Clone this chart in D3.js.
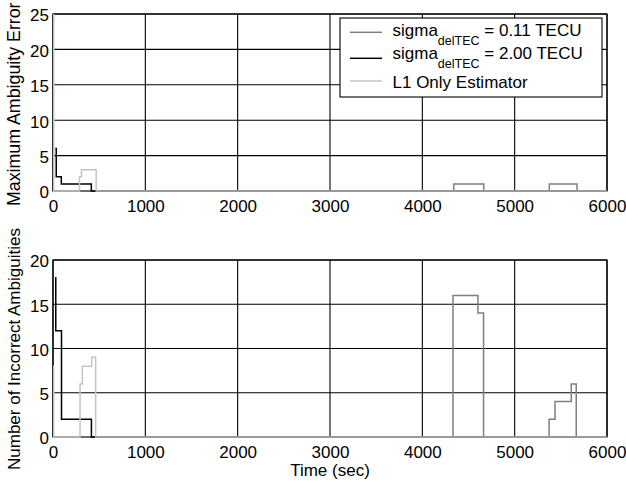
<!DOCTYPE html>
<html>
<head>
<meta charset="utf-8">
<script src="https://cdn.jsdelivr.net/npm/d3@7/dist/d3.min.js"></script>
<style>
  html, body { margin: 0; padding: 0; background: #fff; }
  svg { display: block; }
  text { font-family: "Liberation Sans", Arial, Helvetica, sans-serif; fill: #000; }
</style>
</head>
<body>
<svg id="chart" width="626" height="485"></svg>
<script>
// Time axis ticks (seconds)
const xTicks = [0, 1000, 2000, 3000, 4000, 5000, 6000];
const yTicksTop = [0, 5, 10, 15, 20, 25];
const yTicksBottom = [0, 5, 10, 15, 20];

// Legend entries
const seriesNames = ["0.11", "2.00", "L1"];
const legendLabels = [
  { base: "sigma", sub: "delTEC", rest: " = 0.11 TECU" },
  { base: "sigma", sub: "delTEC", rest: " = 2.00 TECU" },
  { base: "L1 Only Estimator", sub: null, rest: null }
];
const seriesColors = ["#7f7f7f", "#000000", "#c4c4c4"];

// Maximum ambiguity error (step series: value holds from each time until the next)
const maxErrTime011 = [0, 4340, 4665, 5375, 5675, 6000];
const maxErrVal011  = [0, 1, 0, 1, 0, 0];
const maxErrTime200 = [25, 35, 90, 415, 6000];
const maxErrVal200  = [6, 2, 1, 0, 0];
const maxErrTimeL1  = [0, 8, 287, 308, 468, 6000];
const maxErrValL1   = [25, 0, 2, 3, 0, 0];

// Number of incorrect ambiguities
const numTime011 = [0, 4332, 4602, 4663, 5373, 5437, 5613, 5667, 6000];
const numVal011  = [0, 16, 14, 0, 2, 4, 6, 0, 0];
const numTime200 = [22, 30, 92, 416, 6000];
const numVal200  = [18, 12, 2, 0, 0];
const numTimeL1  = [0, 8, 293, 318, 419, 462, 6000];
const numValL1   = [8, 0, 6, 8, 9, 0, 0];

const svg = d3.select("#chart");
const left = 53, right = 607;
const fontSize = 17;

const x = d3.scaleLinear().domain([0, 6000]).range([left, right]);

function zip(ts, vs) { return ts.map((t, i) => ({ t, v: vs[i] })); }

function panel(id, top, bottom, yMax, yTicks, series, ylabel, ylabelStart, ylabelSize) {
  const y = d3.scaleLinear().domain([0, yMax]).range([bottom, top]);
  const g = svg.append("g");

  // grid
  g.append("g").selectAll("line").data(xTicks).join("line")
    .attr("x1", d => x(d)).attr("x2", d => x(d))
    .attr("y1", top).attr("y2", bottom)
    .attr("stroke", "#000").attr("stroke-width", 1.1);
  g.append("g").selectAll("line").data(yTicks).join("line")
    .attr("x1", left).attr("x2", right)
    .attr("y1", d => y(d)).attr("y2", d => y(d))
    .attr("stroke", "#000").attr("stroke-width", 1.1);

  // frame
  g.append("rect").attr("x", left).attr("y", top)
    .attr("width", right - left).attr("height", bottom - top)
    .attr("fill", "none").attr("stroke", "#000").attr("stroke-width", 1.2);

  // tick labels
  const xAxis = d3.axisBottom(x).tickValues(xTicks).tickSize(0).tickPadding(0).tickFormat(d3.format("d"));
  const xa = g.append("g").attr("transform", `translate(0,${bottom})`).call(xAxis);
  xa.select(".domain").remove();
  xa.selectAll("text").attr("font-size", fontSize).attr("y", 0).attr("dy", 21)
    .attr("font-family", null);

  const yAxis = d3.axisLeft(y).tickValues(yTicks).tickSize(0).tickPadding(0).tickFormat(d3.format("d"));
  const ya = g.append("g").attr("transform", `translate(${left - 4},0)`).call(yAxis);
  ya.select(".domain").remove();
  ya.selectAll("text").attr("font-size", fontSize).attr("x", 0).attr("dy", "0.4em")
    .attr("font-family", null);

  // y label
  g.append("text")
    .attr("transform", `translate(20,${ylabelStart}) rotate(-90)`)
    .attr("font-size", ylabelSize).attr("text-anchor", "start")
    .text(ylabel);

  // series
  const clipId = "clip-" + id;
  svg.append("clipPath").attr("id", clipId).append("rect")
    .attr("x", left - 3).attr("y", top).attr("width", right - left + 6).attr("height", bottom - top + 4);

  const line = d3.line().x(d => x(d.t)).y(d => y(d.v)).curve(d3.curveStepAfter);
  const sg = g.append("g").attr("clip-path", `url(#${clipId})`);
  series.forEach((s, i) => {
    sg.append("path").datum(s)
      .attr("d", line)
      .attr("fill", "none")
      .attr("stroke", seriesColors[i])
      .attr("stroke-width", 1.5);
  });
}

panel("top", 14, 191, 25, yTicksTop,
  [zip(maxErrTime011, maxErrVal011), zip(maxErrTime200, maxErrVal200), zip(maxErrTimeL1, maxErrValL1)],
  "Maximum Ambiguity Error", 206, 17.8);

panel("bottom", 260, 437, 20, yTicksBottom,
  [zip(numTime011, numVal011), zip(numTime200, numVal200), zip(numTimeL1, numValL1)],
  "Number of Incorrect Ambiguities", 470, 17);

// x axis title
svg.append("text").attr("x", (left + right) / 2).attr("y", 476)
  .attr("text-anchor", "middle").attr("font-size", fontSize).text("Time (sec)");

// legend
const lg = svg.append("g");
lg.append("rect").attr("x", 340).attr("y", 18).attr("width", 262).attr("height", 79)
  .attr("fill", "#fff").attr("stroke", "#000").attr("stroke-width", 1.1);
const lineYs = [32.3, 58.3, 81];
const textYs = [35.7, 59, 88.3];
legendLabels.forEach((lab, i) => {
  lg.append("line").attr("x1", 350).attr("x2", 382)
    .attr("y1", lineYs[i]).attr("y2", lineYs[i])
    .attr("stroke", seriesColors[i]).attr("stroke-width", 1.5);
  const t = lg.append("text").attr("x", 392.5).attr("y", textYs[i]).attr("font-size", fontSize)
    .attr("xml:space", "preserve");
  t.append("tspan").text(lab.base);
  if (lab.sub) {
    t.append("tspan").attr("dy", 9.3).attr("font-size", 12.5).text(lab.sub);
    t.append("tspan").attr("dy", -9.3).text(lab.rest);
  }
});
</script>
</body>
</html>
